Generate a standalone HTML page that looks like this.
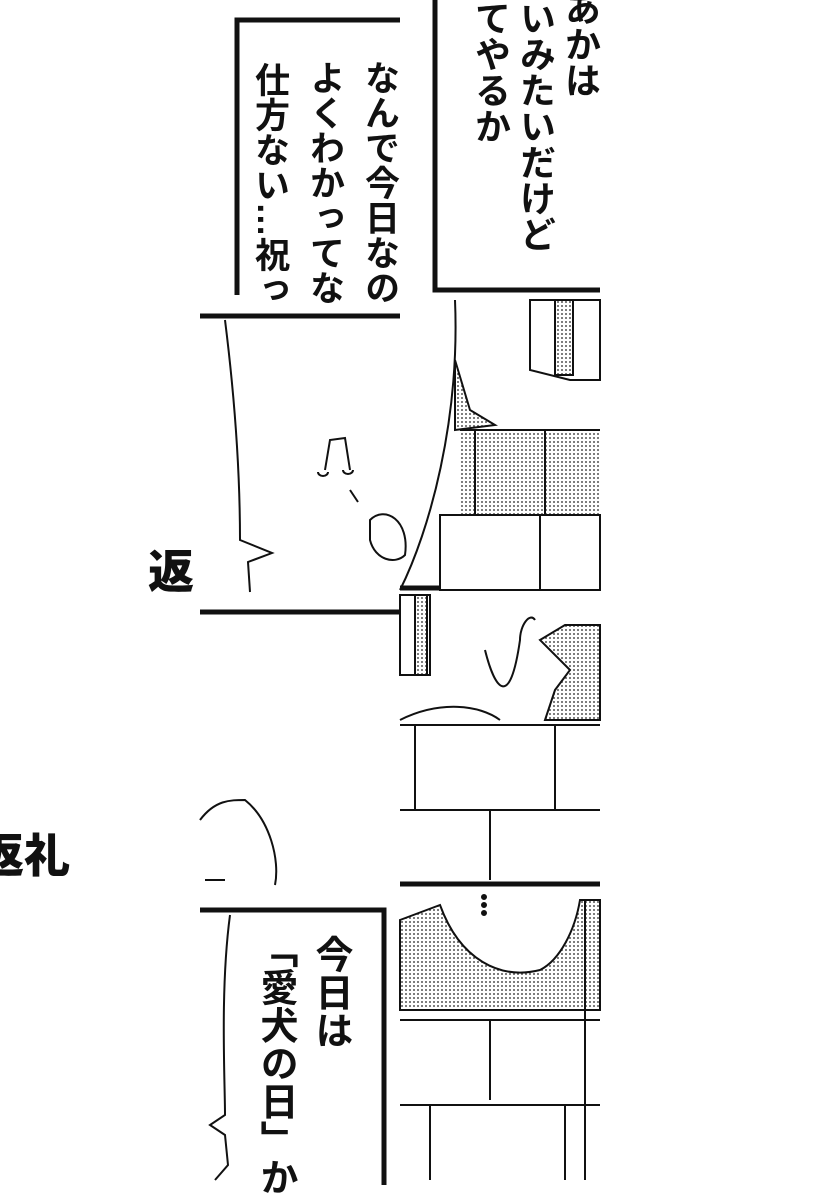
<!DOCTYPE html>
<html><head><meta charset="utf-8"><style>
body{margin:0;background:#fff;}
#w{position:relative;width:820px;height:1200px;overflow:hidden;background:#fff;}
.v{position:absolute;writing-mode:vertical-rl;white-space:nowrap;font-family:"Liberation Sans","Noto Sans CJK JP",sans-serif;font-weight:bold;color:#111;line-height:1;}
svg{position:absolute;left:0;top:0;}
</style></head><body><div id="w">
<svg width="820" height="1200" viewBox="0 0 820 1200">
<defs><pattern id="d" width="4" height="4" patternUnits="userSpaceOnUse"><rect width="4" height="4" fill="#fff"/><circle cx="2" cy="2" r="1" fill="#555"/></pattern></defs>
<g stroke="#111" fill="none" stroke-width="5">
<path d="M435 0 V290 H600"/>
<path d="M400 20 H237 V295"/>
<path d="M200 316 H400"/>
<path d="M400 588 H600"/>
<path d="M200 612 H400"/>
<path d="M400 884 H600"/>
<path d="M200 910 H384 V1185"/>
</g>
<g stroke="#111" fill="none" stroke-width="2">
<path d="M225 320 C235 400 240 470 240 540 L272 553 L248 562 L250 592"/>
<path d="M455 300 C460 420 430 530 400 590"/>
<rect x="460" y="430" width="140" height="160" fill="url(#d)" stroke="none"/>
<path d="M455 360 L470 410 L495 425 L455 430Z" fill="url(#d)"/>
<path d="M460 430 H600 M440 515 H600 M475 430 V515 M545 430 V515 M540 515 V590"/>
<rect x="440" y="515" width="160" height="75" fill="#fff"/>
<path d="M440 515 H600 M540 515 V590"/>
<path d="M530 300 H600 V380 H570 L530 370Z" fill="#fff"/>
<rect x="555" y="300" width="18" height="75" fill="url(#d)"/>
<path d="M370 520 C385 505 410 520 405 555 C395 565 375 560 370 540Z" fill="#fff"/>
<path d="M325 470 L330 440 L345 438 L350 470 M318 472 a5 4 0 1 0 10 0 M343 470 a5 4 0 1 0 10 0 M350 490 L358 502"/>
<rect x="400" y="595" width="30" height="80" fill="#fff"/>
<rect x="415" y="595" width="12" height="80" fill="url(#d)"/>
<path d="M540 640 L565 625 L600 625 V720 H545 L555 690 L570 670 Z" fill="url(#d)"/>
<path d="M400 720 C440 700 480 705 500 720 M485 650 C495 690 510 710 520 640 C520 625 530 612 535 620"/>
<path d="M400 725 H600 M415 725 V810 M555 725 V810 M400 810 H600 M490 810 V880"/>
<path d="M200 820 C215 800 230 800 245 800 C270 820 280 860 275 885 M205 880 H225"/>
<path d="M400 920 L440 905 C460 960 500 980 540 970 C560 960 575 930 580 900 L600 900 V1010 H400 Z" fill="url(#d)"/>
<path d="M400 1020 H600 M490 1020 V1100 M400 1105 H600 M430 1105 V1180 M565 1105 V1180 M585 900 V1180"/>
<path d="M230 915 C220 990 225 1080 225 1115 L210 1125 L225 1135 L228 1165 L215 1180"/>
<circle cx="484" cy="897" r="2" fill="#111"/><circle cx="484" cy="905" r="2" fill="#111"/><circle cx="484" cy="913" r="2" fill="#111"/>
</g>
<text x="148" y="588" font-family="Liberation Sans,Noto Sans CJK JP,sans-serif" font-weight="900" font-size="46" fill="#111">返</text>
<text x="-22" y="872" font-family="Liberation Sans,Noto Sans CJK JP,sans-serif" font-weight="900" font-size="46" fill="#111">返礼</text>
</svg>
<div class="v" style="left:562px;top:-10px;font-size:36px">あかは</div>
<div class="v" style="left:517px;top:0px;font-size:36px">いみたいだけど</div>
<div class="v" style="left:472px;top:0px;font-size:36px">てやるか</div>
<div class="v" style="left:362px;top:60px;font-size:35px">なんで今日なの</div>
<div class="v" style="left:307px;top:60px;font-size:35px">よくわかってな</div>
<div class="v" style="left:252px;top:62px;font-size:35px">仕方ない…祝っ</div>
<div class="v" style="left:311px;top:935px;font-size:38px">今日は</div>
<div class="v" style="left:256px;top:930px;font-size:38px">「愛犬の日」か…</div>
</div></body></html>
